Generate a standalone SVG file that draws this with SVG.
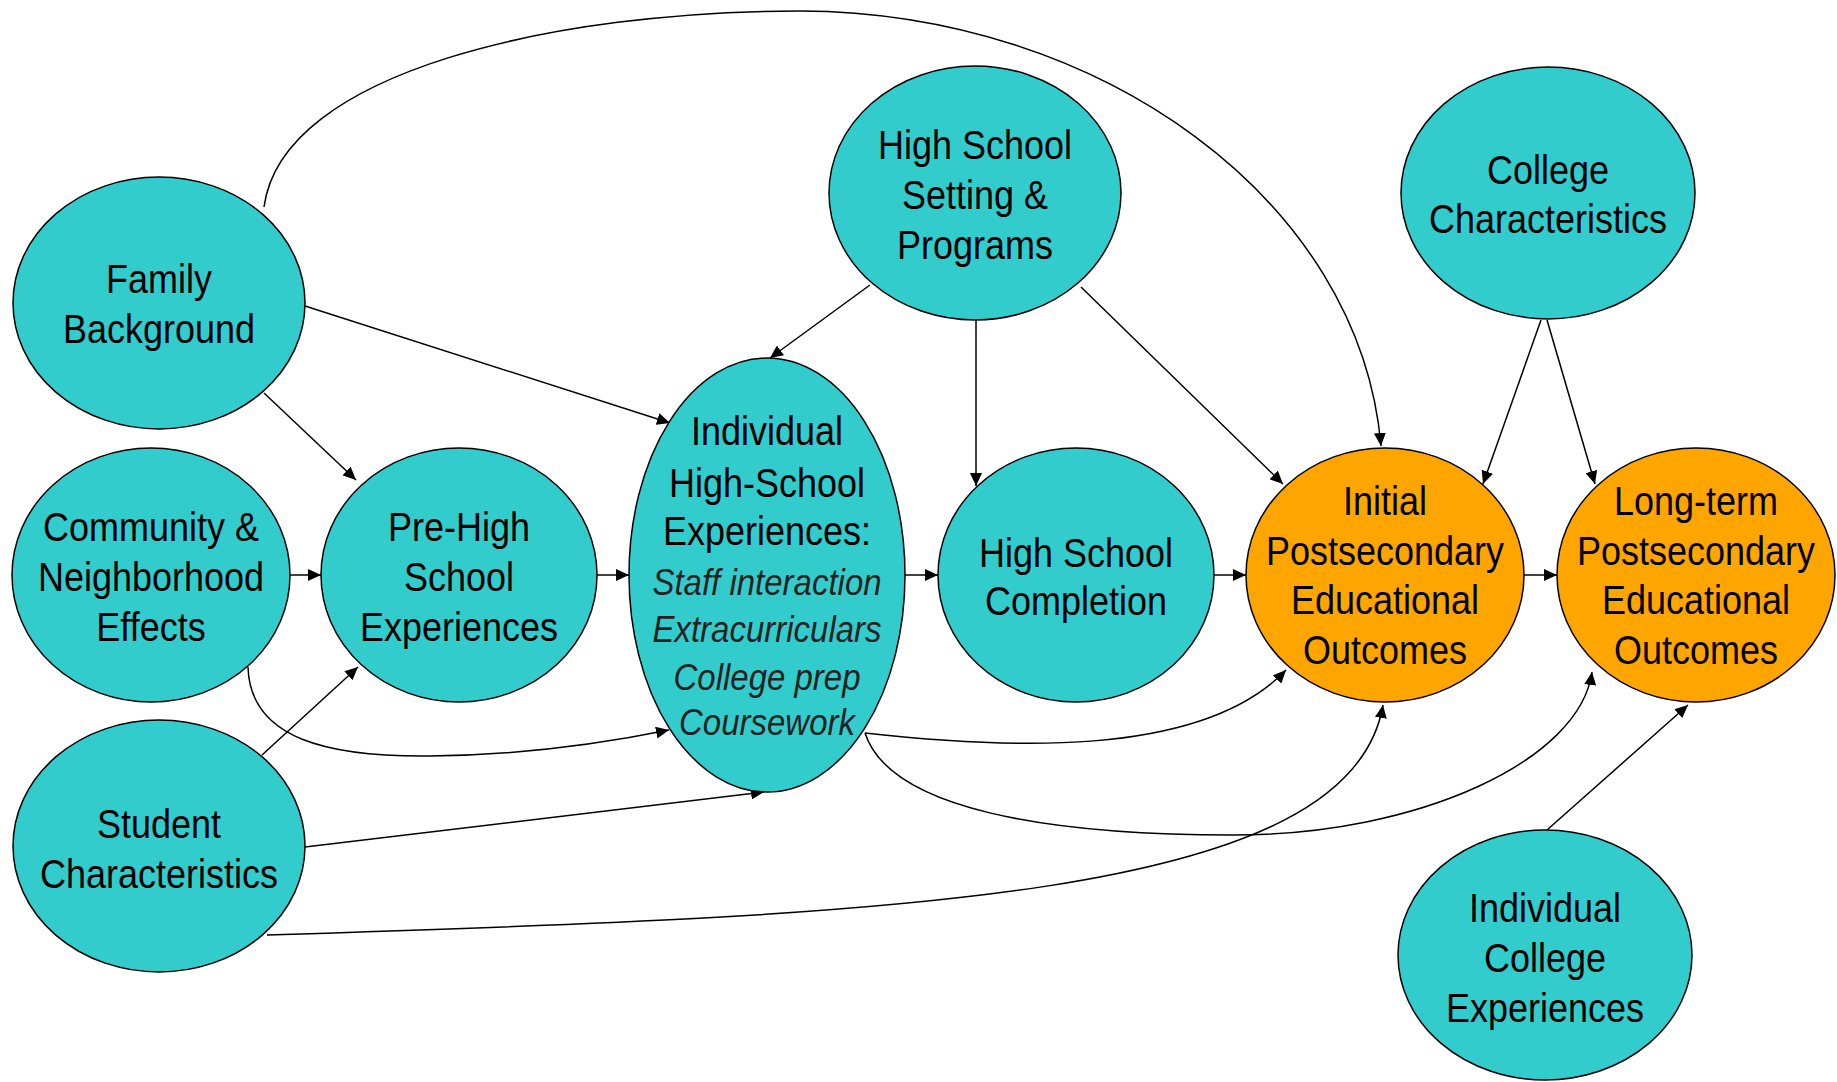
<svg xmlns="http://www.w3.org/2000/svg" width="1837" height="1082" viewBox="0 0 1837 1082">
<style>
.teal{fill:#33CCCC;stroke:#000;stroke-width:1.5}
.orange{fill:#FFA500;stroke:#000;stroke-width:1.5}
text{font-family:"Liberation Sans",Arial,sans-serif;font-size:36px;fill:#000;text-anchor:middle}
text.it{font-style:italic;font-size:33px;fill:#222}
.conn path{fill:none;stroke:#000;stroke-width:1.5;marker-end:url(#arr)}
</style>
<defs>
<marker id="arr" markerUnits="userSpaceOnUse" markerWidth="14" markerHeight="12" refX="13" refY="6" orient="auto">
<path d="M0,0 L13,6 L0,12 z" fill="#000"/>
</marker>
</defs>
<rect width="1837" height="1082" fill="#fff"/>
<g class="conn" id="connectors">
<path d="M264,207 C282,70 560,11 800,11 C1100,12 1360,200 1381,446"/>
<path d="M264,393 L356,480"/>
<path d="M305,306 L670,423"/>
<path d="M290,575 L321,575"/>
<path d="M597,575 L629,575"/>
<path d="M905,575 L938,575"/>
<path d="M1214,575 L1246,575"/>
<path d="M1524,575 L1557,575"/>
<path d="M870,285 L770,358"/>
<path d="M976,320 L976,486"/>
<path d="M1081,287 L1283,484"/>
<path d="M1541,320 L1483,484"/>
<path d="M1547,320 L1595,484"/>
<path d="M248,667 C250,740 330,757 430,756 C530,755 620,740 669,730"/>
<path d="M262,755 L358,667"/>
<path d="M305,847 L764,792"/>
<path d="M267,935 C900,915 1350,900 1383,705"/>
<path d="M865,733 C1000,748 1200,760 1286,670"/>
<path d="M865,733 C890,810 1050,835 1233,835 C1420,835 1580,760 1592,672"/>
<path d="M1547,830 L1688,705"/>
</g>
<g id="family"><ellipse class="teal" cx="159" cy="303" rx="146" ry="126"/><text transform="matrix(1,0,0,1.12,159,293)">Family</text><text transform="matrix(1,0,0,1.12,159,343)">Background</text></g>
<g id="community"><ellipse class="teal" cx="151" cy="575" rx="139" ry="127"/><text transform="matrix(1,0,0,1.12,151,541)">Community &amp;</text><text transform="matrix(1,0,0,1.12,151,591)">Neighborhood</text><text transform="matrix(1,0,0,1.12,151,641)">Effects</text></g>
<g id="prehigh"><ellipse class="teal" cx="459" cy="575" rx="138" ry="127"/><text transform="matrix(1,0,0,1.12,459,541)">Pre-High</text><text transform="matrix(1,0,0,1.12,459,591)">School</text><text transform="matrix(1,0,0,1.12,459,641)">Experiences</text></g>
<g id="student"><ellipse class="teal" cx="159" cy="846" rx="146" ry="126"/><text transform="matrix(1,0,0,1.12,159,838)">Student</text><text transform="matrix(1,0,0,1.12,159,888)">Characteristics</text></g>
<g id="hssetting"><ellipse class="teal" cx="975" cy="193" rx="146" ry="127"/><text transform="matrix(1,0,0,1.12,975,159)">High School</text><text transform="matrix(1,0,0,1.12,975,209)">Setting &amp;</text><text transform="matrix(1,0,0,1.12,975,259)">Programs</text></g>
<g id="individualhs"><ellipse class="teal" cx="767" cy="575" rx="138" ry="217"/><text transform="matrix(1,0,0,1.12,767,445)">Individual</text><text transform="matrix(1,0,0,1.12,767,497)">High-School</text><text transform="matrix(1,0,0,1.12,767,545)">Experiences:</text><text class="it" transform="matrix(1,0,0,1.12,767,595)">Staff interaction</text><text class="it" transform="matrix(1,0,0,1.12,767,642)">Extracurriculars</text><text class="it" transform="matrix(1,0,0,1.12,767,690)">College prep</text><text class="it" transform="matrix(1,0,0,1.12,767,735)">Coursework</text></g>
<g id="hscompletion"><ellipse class="teal" cx="1076" cy="575" rx="138" ry="127"/><text transform="matrix(1,0,0,1.12,1076,567)">High School</text><text transform="matrix(1,0,0,1.12,1076,615)">Completion</text></g>
<g id="college"><ellipse class="teal" cx="1548" cy="193" rx="147" ry="126"/><text transform="matrix(1,0,0,1.12,1548,184)">College</text><text transform="matrix(1,0,0,1.12,1548,233)">Characteristics</text></g>
<g id="initial"><ellipse class="orange" cx="1385" cy="575" rx="139" ry="127"/><text transform="matrix(1,0,0,1.12,1385,515)">Initial</text><text transform="matrix(1,0,0,1.12,1385,565)">Postsecondary</text><text transform="matrix(1,0,0,1.12,1385,614)">Educational</text><text transform="matrix(1,0,0,1.12,1385,664)">Outcomes</text></g>
<g id="longterm"><ellipse class="orange" cx="1696" cy="575" rx="139" ry="127"/><text transform="matrix(1,0,0,1.12,1696,515)">Long-term</text><text transform="matrix(1,0,0,1.12,1696,565)">Postsecondary</text><text transform="matrix(1,0,0,1.12,1696,614)">Educational</text><text transform="matrix(1,0,0,1.12,1696,664)">Outcomes</text></g>
<g id="collegeexp"><ellipse class="teal" cx="1545" cy="955" rx="147" ry="125"/><text transform="matrix(1,0,0,1.12,1545,922)">Individual</text><text transform="matrix(1,0,0,1.12,1545,972)">College</text><text transform="matrix(1,0,0,1.12,1545,1022)">Experiences</text></g>
</svg>
